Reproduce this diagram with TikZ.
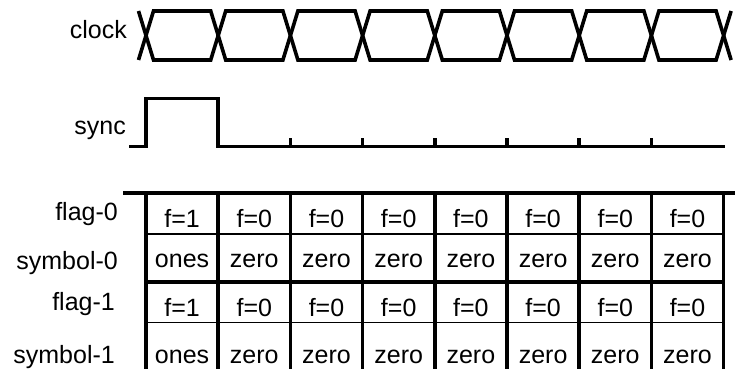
\documentclass[tikz,border=0pt]{standalone}
\usepackage{fontspec}
\setmainfont{Liberation Sans}

\tikzset{
    wave/.style={line width=3.6pt},
    thinrule/.style={line width=1.1pt},
    lbl/.style={anchor=base east, inner sep=0pt, font=\fontsize{25}{30}\selectfont},
    cell/.style={anchor=base, inner sep=0pt, font=\fontsize{25}{30}\selectfont}
}

\begin{document}
\begin{tikzpicture}[x=1pt, y=-1pt]
            \useasboundingbox (0,0) rectangle (735,369);

            \node[lbl] (clock) at (127, 38.5) {clock};
            \foreach \i in {0,...,7} {
                \pgfmathsetmacro\a{146+72.2*\i}
                \pgfmathsetmacro\b{\a+72.2}
                \draw[wave] (\a,35.5) -- (\a+7.5,11) -- (\b-7.5,11) -- (\b,35.5) -- (\b-7.5,60) -- (\a+7.5,60) -- cycle;
            }
            \draw[wave] (138.5,11) -- (146,35.5);
            \draw[wave] (138.5,60) -- (146,35.5);
            \draw[wave] (731.1,11) -- (723.6,35.5);
            \draw[wave] (731.1,60) -- (723.6,35.5);

            \node[lbl] (sync) at (126, 134.5) {sync};
            \draw[wave] (129,146.5) -- (146,146.5) -- (146,98.5) -- (218.2,98.5) -- (218.2,146.5) -- (725,146.5);
            \foreach \i in {2,...,7}
                \draw[wave] (146+72.2*\i,146.5) -- ++(0,-9);

            \draw[wave] (123,193) -- (735,193);
            \foreach \i in {0,...,8}
                \draw[wave] (146+72.2*\i,193) -- (146+72.2*\i,369);
            \draw[thinrule] (146,234) -- (723.6,234);
            \draw[wave] (146,282) -- (723.6,282);
            \draw[thinrule] (146,322.5) -- (723.6,322.5);

            \node[lbl] (flag0) at (118, 220) {flag-0};
            \node[lbl] (symbol0) at (118, 269) {symbol-0};
            \node[lbl] (flag1) at (115, 310) {flag-1};
            \node[lbl] (symbol1) at (115, 363) {symbol-1};

            \foreach \i in {0,...,7} {
                \pgfmathsetmacro\x{182.1+72.2*\i}
                \node[cell] (f0-\i) at (\x, 227) {f=\ifnum\i=0 1\else 0\fi};
                \node[cell] (s0-\i) at (\x, 267.5) {\ifnum\i=0 ones\else zero\fi};
                \node[cell] (f1-\i) at (\x, 316) {f=\ifnum\i=0 1\else 0\fi};
                \node[cell] (s1-\i) at (\x, 363) {\ifnum\i=0 ones\else zero\fi};
            }
      \end{tikzpicture}
\end{document}
